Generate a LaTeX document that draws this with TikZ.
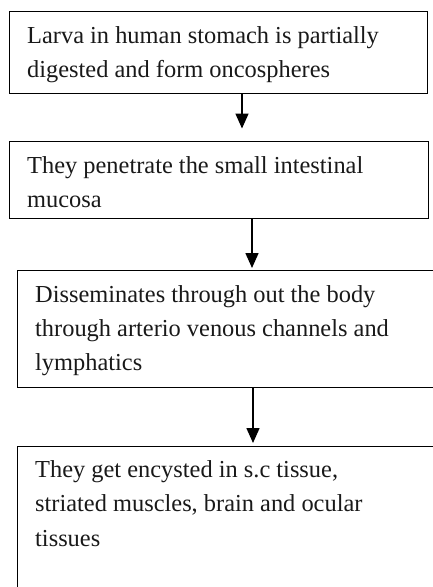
\documentclass[tikz,border=0pt]{standalone}
\usepackage{fontspec}
\setmainfont{Liberation Serif}
\usetikzlibrary{arrows.meta,calc}
\tikzset{
  flowbox/.style={draw=black, line width=1.2pt, rectangle, inner sep=0pt, anchor=north west},
  txtline/.style={anchor=base west, inner sep=0pt, font=\fontsize{24.4}{28}\selectfont, text=black!90},
  flowarrow/.style={line width=1.6pt, -{Triangle[length=15pt,width=13pt]}}
}
\begin{document}
\begin{tikzpicture}[x=1pt,y=1pt]
\useasboundingbox (0,0) rectangle (433,-587);
% boxes
\node[flowbox, minimum width=418pt, minimum height=82pt] (b1) at (9,-10.5) {};
\node[flowbox, minimum width=419pt, minimum height=77pt] (b2) at (9,-141) {};
\node[flowbox, minimum width=440pt, minimum height=117pt] (b3) at (17,-270) {};
\node[flowbox, minimum width=440pt, minimum height=160pt] (b4) at (17,-446) {};
% text
\node[txtline] (t1a) at (27,-43) {Larva in human stomach is partially};
\node[txtline] (t1b) at (27,-77) {digested and form oncospheres};
\node[txtline] (t2a) at (27,-173) {They penetrate the small intestinal};
\node[txtline] (t2b) at (27,-207) {mucosa};
\node[txtline] (t3a) at (35,-302) {Disseminates through out the body};
\node[txtline] (t3b) at (35,-336) {through arterio venous channels and};
\node[txtline] (t3c) at (35,-370) {lymphatics};
\node[txtline] (t4a) at (35,-477) {They get encysted in s.c tissue,};
\node[txtline] (t4b) at (35,-511) {striated muscles, brain and ocular};
\node[txtline] (t4c) at (35,-546) {tissues};
% arrows
\coordinate (x1) at (242,0);
\coordinate (x2) at (252,0);
\coordinate (x3) at (253,0);
\draw[flowarrow, shorten >=12.5pt] (x1 |- b1.south) -- (x1 |- b2.north);
\draw[flowarrow, shorten >=2pt] (x2 |- b2.south) -- (x2 |- b3.north);
\draw[flowarrow, shorten >=3pt] (x3 |- b3.south) -- (x3 |- b4.north);
\end{tikzpicture}
\end{document}
